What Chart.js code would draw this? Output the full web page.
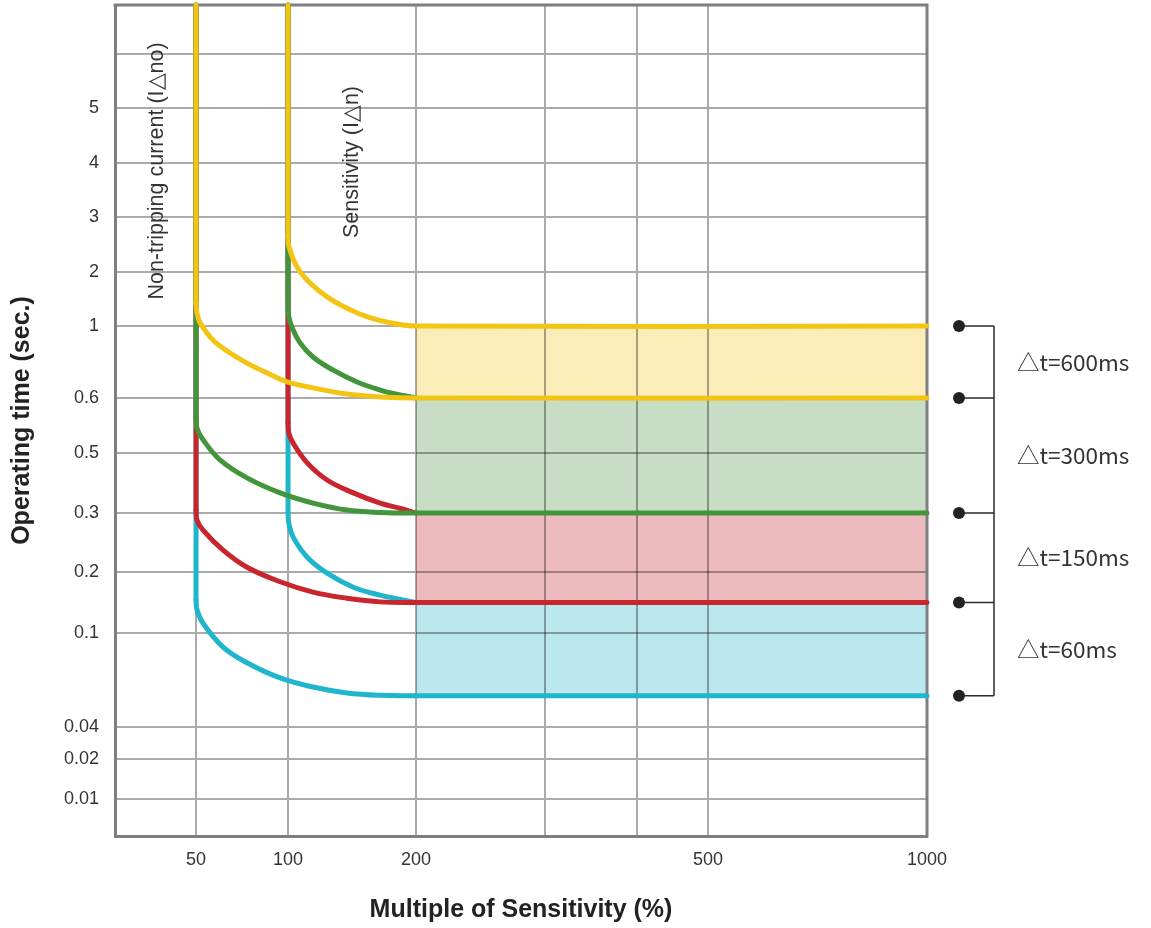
<!DOCTYPE html>
<html>
<head>
<meta charset="utf-8">
<script src="https://cdn.jsdelivr.net/npm/chart.js@4/dist/chart.umd.min.js"></script>
<style>
  html, body { margin: 0; padding: 0; background: #ffffff; }
  canvas { display: block; }
</style>
</head>
<body>
<canvas id="chart" width="1151" height="928"></canvas>
<script>
// ================= DATA =================
const xTickValues = [50, 100, 200, 300, 400, 500, 1000];
const xTickLabels = ['50', '100', '200', '', '', '500', '1000'];
const yTickValues = [0.01, 0.02, 0.04, 0.1, 0.2, 0.3, 0.5, 0.6, 1, 2, 3, 4, 5, 6];
const yTickLabels = ['0.01', '0.02', '0.04', '0.1', '0.2', '0.3', '0.5', '0.6', '1', '2', '3', '4', '5', ''];

// curves: [multiple of sensitivity %, operating time s]; first two points = vertical part
const yellowFrom100 = [[100, 7], [100, 2.65], [100.6, 2.47], [107, 2.09], [117, 1.8], [130.5, 1.54], [146, 1.33], [162, 1.17], [180, 1.06], [200, 1], [1000, 1]];
const yellowFrom50  = [[50, 7], [50, 1.43], [50.5, 1.24], [52.2, 1.06], [59.2, 0.922], [68.5, 0.85], [77.7, 0.794], [88.6, 0.739], [99.5, 0.689], [119.5, 0.656], [146, 0.622], [172, 0.606], [200, 0.6], [1000, 0.6]];
const greenFrom100  = [[100, 7], [100, 1.35], [100.6, 1.17], [103, 0.994], [109.4, 0.906], [119.5, 0.828], [135, 0.756], [154, 0.689], [172, 0.644], [184, 0.622], [200, 0.6]];
const greenFrom50   = [[50, 7], [50, 0.564], [50.5, 0.545], [53.8, 0.524], [63, 0.477], [77.7, 0.417], [95.7, 0.367], [119.5, 0.333], [146, 0.31], [172, 0.302], [200, 0.3], [1000, 0.3]];
const redFrom100    = [[100, 7], [100, 0.555], [100.6, 0.536], [104, 0.518], [115, 0.467], [130.5, 0.41], [151, 0.367], [172, 0.333], [188, 0.315], [200, 0.3]];
const redFrom50     = [[50, 7], [50, 0.31], [50.5, 0.288], [53.8, 0.271], [64.7, 0.237], [77.7, 0.208], [95.7, 0.184], [119.5, 0.167], [146, 0.157], [172, 0.151], [200, 0.15], [1000, 0.15]];
const cyanFrom100   = [[100, 7], [100, 0.3], [100.6, 0.283], [104, 0.259], [115, 0.225], [130.5, 0.198], [151, 0.175], [172, 0.162], [200, 0.15]];
const cyanFrom50    = [[50, 7], [50, 0.154], [50.5, 0.138], [53.8, 0.116], [64.7, 0.091], [77.7, 0.081], [95.7, 0.0713], [119.5, 0.0655], [146, 0.0617], [172, 0.0602], [200, 0.06], [1000, 0.06]];

// selectivity bands
const bandLevels = [1, 0.6, 0.3, 0.15, 0.06];
const bandLabels = ['\u25B3t=600ms', '\u25B3t=300ms', '\u25B3t=150ms', '\u25B3t=60ms'];
const bandStart = 200;
const bandEnd = 1000;

const noteLabels = ['Non-tripping current (I\u25B3no)', 'Sensitivity (I\u25B3n)'];
const xTitle = 'Multiple of Sensitivity (%)';
const yTitle = 'Operating time (sec.)';

// ================= STYLE =================
const COLORS = { yellow: '#f4c414', green: '#42953a', red: '#c8252d', cyan: '#1fb5cd' };
const BAND_FILLS = ['#faedb8', '#c7ddc4', '#edbbbe', '#bae8ee'];
const GRID = '#aaaaaa';
const FRAME = '#7e7f82';
const TEXT = '#333333';

// axis geometry (value -> fraction of axis length), non-uniform diagram scale
const axisBreaks = {
  x: [[0, 0], [50, 0.0998], [100, 0.2131], [200, 0.3707], [300, 0.5296], [400, 0.6429], [500, 0.7303], [1000, 1]],
  y: [[0, 0], [0.01, 0.0445], [0.02, 0.0927], [0.04, 0.1312], [0.1, 0.2443], [0.2, 0.3177], [0.3, 0.3887],
      [0.5, 0.4609], [0.6, 0.5271], [1, 0.6137], [2, 0.6787], [3, 0.7449], [4, 0.8099], [5, 0.8761], [6, 0.9410], [7, 1]]
};
const axisTicks = { x: xTickValues, y: yTickValues };

class PiecewiseScale extends Chart.LinearScale {
  determineDataLimits() {
    const b = axisBreaks[this.id];
    this.min = b[0][0];
    this.max = b[b.length - 1][0];
  }
  buildTicks() {
    return axisTicks[this.id].map(v => ({ value: v }));
  }
  _frac(v) {
    const b = axisBreaks[this.id];
    if (v <= b[0][0]) return b[0][1];
    for (let i = 1; i < b.length; i++) {
      if (v <= b[i][0]) {
        const [v0, f0] = b[i - 1];
        const [v1, f1] = b[i];
        return f0 + (v - v0) / (v1 - v0) * (f1 - f0);
      }
    }
    return b[b.length - 1][1];
  }
  getPixelForValue(v) {
    if (v === null || v === undefined) return NaN;
    return this.getPixelForDecimal(this._frac(v));
  }
  getValueForPixel(p) {
    const f = this.getDecimalForPixel(p);
    const b = axisBreaks[this.id];
    for (let i = 1; i < b.length; i++) {
      if (f <= b[i][1]) {
        const [v0, f0] = b[i - 1];
        const [v1, f1] = b[i];
        return v0 + (f - f0) / (f1 - f0) * (v1 - v0);
      }
    }
    return b[b.length - 1][0];
  }
}
PiecewiseScale.id = 'piecewise';
PiecewiseScale.defaults = Chart.LinearScale.defaults;
Chart.register(PiecewiseScale);

const toXY = arr => arr.map(([x, y]) => ({ x, y }));

function lineSet(points, color, order, smooth) {
  return {
    data: toXY(points),
    borderColor: color,
    backgroundColor: color,
    borderWidth: 5,
    pointRadius: 0,
    tension: smooth ? 0.4 : 0,
    fill: false,
    order: order,
    borderCapStyle: 'round',
    borderJoinStyle: 'round',
    clip: { left: 0, top: 3, right: 3, bottom: 0 }
  };
}

const curveList = [
  [yellowFrom100, COLORS.yellow, 0], [yellowFrom50, COLORS.yellow, 0],
  [greenFrom100, COLORS.green, 1], [greenFrom50, COLORS.green, 1],
  [redFrom100, COLORS.red, 2], [redFrom50, COLORS.red, 2],
  [cyanFrom100, COLORS.cyan, 3], [cyanFrom50, COLORS.cyan, 3]
];
const datasets = [];
curveList.forEach(([pts, color, order]) => {
  datasets.push(lineSet(pts.slice(0, 2), color, order, false)); // vertical part
  datasets.push(lineSet(pts.slice(1), color, order, true));     // bend + plateau
});
for (let i = 0; i < bandLabels.length; i++) {
  datasets.push({
    data: [{ x: bandStart, y: bandLevels[i] }, { x: bandEnd, y: bandLevels[i] }],
    borderWidth: 0,
    borderColor: 'rgba(0,0,0,0)',
    backgroundColor: BAND_FILLS[i],
    pointRadius: 0,
    fill: { value: bandLevels[i + 1] },
    order: 10
  });
}

const decor = {
  id: 'decor',
  beforeDatasetsDraw(chart) {
    const { ctx, chartArea: a, scales: { x, y } } = chart;
    // grid lines seen through the band fills (multiplied)
    const bx0 = x.getPixelForValue(bandStart), bx1 = x.getPixelForValue(bandEnd);
    const by0 = y.getPixelForValue(bandLevels[0]), by1 = y.getPixelForValue(bandLevels[bandLevels.length - 1]);
    ctx.save();
    ctx.beginPath();
    ctx.rect(bx0, by0, bx1 - bx0, by1 - by0);
    ctx.clip();
    ctx.globalCompositeOperation = 'multiply';
    ctx.strokeStyle = GRID;
    ctx.lineWidth = 2;
    x.ticks.forEach(t => {
      const p = Math.round(x.getPixelForValue(t.value));
      ctx.beginPath(); ctx.moveTo(p, a.top); ctx.lineTo(p, a.bottom); ctx.stroke();
    });
    y.ticks.forEach(t => {
      const p = Math.round(y.getPixelForValue(t.value));
      ctx.beginPath(); ctx.moveTo(a.left, p); ctx.lineTo(a.right, p); ctx.stroke();
    });
    ctx.restore();
    // top and right frame
    ctx.save();
    ctx.strokeStyle = FRAME;
    ctx.lineWidth = 3;
    ctx.beginPath();
    ctx.moveTo(a.left - 1.5, a.top);
    ctx.lineTo(a.right, a.top);
    ctx.lineTo(a.right, a.bottom + 1.5);
    ctx.stroke();
    ctx.restore();
  },
  afterDraw(chart) {
    const { ctx, chartArea: a, scales: { x, y } } = chart;
    ctx.save();
    // bracket legend for the bands
    const dotX = a.right + 32, barX = a.right + 67, textX = a.right + 90;
    const pys = bandLevels.map(v => y.getPixelForValue(v));
    ctx.strokeStyle = '#2a2a2a';
    ctx.lineWidth = 1.5;
    ctx.beginPath();
    ctx.moveTo(barX, pys[0]);
    ctx.lineTo(barX, pys[pys.length - 1]);
    pys.forEach(p => { ctx.moveTo(dotX, p); ctx.lineTo(barX, p); });
    ctx.stroke();
    ctx.fillStyle = '#222222';
    pys.forEach(p => { ctx.beginPath(); ctx.arc(dotX, p, 6, 0, Math.PI * 2); ctx.fill(); });
    ctx.fillStyle = TEXT;
    ctx.font = '22.5px "Noto Sans CJK SC", "Noto Sans", sans-serif';
    ctx.textAlign = 'left';
    ctx.textBaseline = 'middle';
    bandLabels.forEach((lab, i) => ctx.fillText(lab, textX, (pys[i] + pys[i + 1]) / 2));
    // rotated notes in the plot
    ctx.font = '21.5px "Liberation Sans", Arial, sans-serif';
    ctx.textAlign = 'center';
    const notePos = [[a.left + 42, a.top + 166], [a.left + 237, a.top + 157]];
    noteLabels.forEach((lab, i) => {
      ctx.save();
      ctx.translate(notePos[i][0], notePos[i][1]);
      ctx.rotate(-Math.PI / 2);
      ctx.fillText(lab, 0, 0);
      ctx.restore();
    });
    ctx.restore();
  }
};

new Chart(document.getElementById('chart'), {
  type: 'line',
  data: { datasets },
  options: {
    responsive: false,
    animation: false,
    events: [],
    layout: { padding: { left: 0, top: 5, right: 224, bottom: 0 } },
    plugins: {
      legend: { display: false },
      tooltip: { enabled: false },
      filler: { drawTime: 'beforeDatasetsDraw' }
    },
    scales: {
      x: {
        type: 'piecewise',
        position: 'bottom',
        afterFit: s => { s.height = 92; s.paddingLeft = 0; s.paddingRight = 0; },
        grid: { color: GRID, lineWidth: 2, drawTicks: false },
        border: { display: true, color: FRAME, width: 3 },
        ticks: {
          autoSkip: false, maxRotation: 0, minRotation: 0, padding: 13,
          color: TEXT, font: { family: '"Liberation Sans", Arial, sans-serif', size: 18 },
          callback: v => { const i = xTickValues.indexOf(v); return i >= 0 ? xTickLabels[i] : ''; }
        },
        title: {
          display: true, text: xTitle, color: '#222222',
          font: { family: '"Liberation Sans", Arial, sans-serif', size: 25, weight: 'bold' },
          padding: { top: 0, bottom: 3 }
        }
      },
      y: {
        type: 'piecewise',
        position: 'left',
        afterFit: s => { s.width = 115; s.paddingTop = 0; s.paddingBottom = 0; },
        grid: { color: GRID, lineWidth: 2, drawTicks: false },
        border: { display: true, color: FRAME, width: 3 },
        ticks: {
          autoSkip: false, padding: 16,
          color: TEXT, font: { family: '"Liberation Sans", Arial, sans-serif', size: 18 },
          callback: v => { const i = yTickValues.indexOf(v); return i >= 0 ? yTickLabels[i] : ''; }
        },
        title: {
          display: true, text: yTitle, color: '#222222',
          font: { family: '"Liberation Sans", Arial, sans-serif', size: 25, weight: 'bold' },
          padding: { top: 7, bottom: 0 }
        }
      }
    }
  },
  plugins: [decor]
});
</script>
</body>
</html>
